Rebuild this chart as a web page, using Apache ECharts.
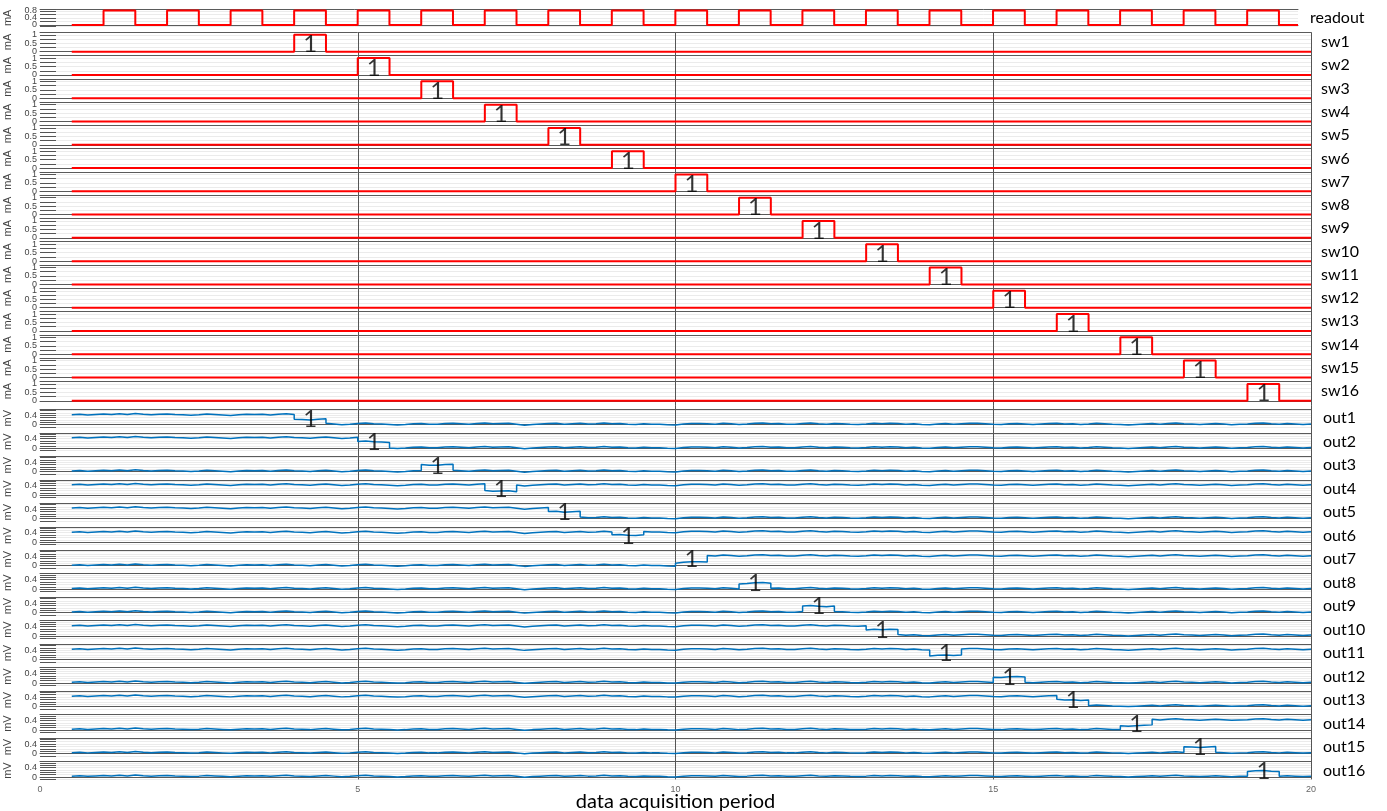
<!DOCTYPE html>
<html><head><meta charset="utf-8">
<script src="https://cdn.jsdelivr.net/npm/echarts@6/dist/echarts.min.js"></script>
<style>html,body{margin:0;padding:0;background:#fff}#c{width:1387px;height:811px}</style>
</head><body><div id="c"></div>
<script>
// ---------------- DATA ----------------
const xTickLabels = [0, 5, 10, 15, 20];
const xAxisTitle = 'data acquisition period';
const dataStart = 0.5;
const readoutEnd = 19.8;
const readoutHigh = 0.82;
const readoutHighStarts = [1,2,3,4,5,6,7,8,9,10,11,12,13,14,15,16,17,18,19];
const readoutHalfPeriod = 0.5;
const readoutTickLabels = [0, 0.4, 0.8];
const swTickLabels = [0, 0.5, 1];
const outTickLabels = [0, 0.4];
const swNames = ['sw1','sw2','sw3','sw4','sw5','sw6','sw7','sw8','sw9','sw10','sw11','sw12','sw13','sw14','sw15','sw16'];
const swPulseStart = [4,5,6,7,8,9,10,11,12,13,14,15,16,17,18,19];
const swPulseWidth = 0.5;
const swHigh = 1;
const outNames = ['out1','out2','out3','out4','out5','out6','out7','out8','out9','out10','out11','out12','out13','out14','out15','out16'];
// level (mV) before / during / after the switch pulse
const outBefore = [0.42,0.44,0.03,0.44,0.45,0.42,0.02,0.03,0.03,0.44,0.44,0.04,0.44,0.04,0.04,0.04];
const outDuring = [0.22,0.26,0.28,0.16,0.28,0.30,0.14,0.24,0.26,0.26,0.18,0.26,0.28,0.20,0.28,0.24];
const outAfter  = [0.03,0.03,0.03,0.44,0.04,0.44,0.42,0.03,0.03,0.05,0.44,0.04,0.04,0.44,0.04,0.04];
// common ripple seen on every out trace (hundredths of mV), every 0.125 from 0.5 to 20
const noiseStep = 0.125;
const noise = [
 0,2,-1,1,3,1,4,1,
 5,2,0,2,3,1,0,-2,
 0,3,1,-1,-3,0,2,1,
 2,-1,2,4,1,0,-2,1,
 3,0,-3,-1,2,4,1,0,
 -2,-4,-2,1,2,-1,-1,2,
 3,1,-1,2,4,1,2,3,
 -1,-5,-2,0,2,3,-1,1,
 3,0,1,4,1,2,-1,-2,
 1,-1,-1,-3,-4,0,2,2,
 1,-1,3,1,-2,0,3,4,
 1,2,-1,-1,2,4,1,-1,
 2,1,-1,-2,0,3,1,3,
 2,-1,1,-2,-3,0,2,-1,
 1,3,3,1,-1,-2,1,2,
 0,-2,0,2,3,0,1,-2,
 0,3,1,-1,-2,-4,-2,0,
 2,-1,2,4,1,0,-2,0,
 2,0,-3,-1,0,3,4,1,
 -1,2,0,-2,0
];

// ---------------- LAYOUT ----------------
const L = { left:40, plotRight:1311, readoutRight:1298, W:1387,
  readoutTop:9, readoutH:17.7, swTop:32.3, swStep:23.27, swH:19.4,
  outTop:409.3, outStep:23.49, outH:17.8 };
const RED = '#ff0000', BLUE = '#0072BD', AX = '#5a5a5a';
const FONT = 'Lato';

const grids=[], xAxes=[], yAxes=[], series=[], graphics=[];

function fmt(labels){ return v => labels.some(l=>Math.abs(l-v)<1e-6) ? String(v) : ''; }

function addPanel(kind, top, h, right, xmax, isLast){
  const gi = grids.length;
  grids.push({left:L.left, width:right-L.left, top:top, height:h, containLabel:false, outerBoundsMode:'none'});
  const bottomAxis = {type:'value', gridIndex:gi, position:'bottom', min:0, max:xmax, interval:5,
    axisLine:{show:true, lineStyle:{color:AX, width:1}}, axisTick:{show:false},
    axisLabel:{show:!!isLast, color:'#666', fontSize:9, margin:6, fontFamily:'Liberation Sans', formatter:fmt(xTickLabels)},
    splitLine:{show:false}};
  if(isLast){ Object.assign(bottomAxis,{name:xAxisTitle, nameLocation:'middle', nameGap:12, nameMoveOverlap:false,
    nameTextStyle:{fontSize:20, fontFamily:FONT, color:'#000'}}); }
  xAxes.push(bottomAxis);
  xAxes.push({type:'value', gridIndex:gi, position:'top', min:0, max:xmax,
    axisLine:{show:true, lineStyle:{color:AX, width:1}}, axisTick:{show:false}, axisLabel:{show:false}, splitLine:{show:false}});
  let y;
  if(kind==='readout') y={min:-0.1,max:0.9,splitNumber:5,labels:readoutTickLabels,name:'mA'};
  else if(kind==='sw') y={min:0,max:1.15,interval:0.25,labels:swTickLabels,name:'mA'};
  else y={min:-0.1,max:0.65,splitNumber:5,labels:outTickLabels,name:'mV'};
  const ya = {type:'value', gridIndex:gi, min:y.min, max:y.max, name:y.name, nameLocation:'middle', nameGap:27, nameMoveOverlap:false,
    nameTextStyle:{fontSize:11, color:'#444', fontFamily:'Liberation Sans'},
    axisLine:{show:false}, axisTick:{show:true, inside:true, length:16, lineStyle:{color:'#555'}},
    axisLabel:{show:true, fontSize:9, color:'#444', margin:3, fontFamily:'Liberation Sans', formatter:fmt(y.labels)},
    splitLine:{show:true, lineStyle:{color:'#ebebeb', width:1}},
    minorSplitLine:{show:false}};
  if(y.interval) ya.interval=y.interval; else ya.splitNumber=y.splitNumber;
  yAxes.push(ya);
  return gi;
}

// readout
{
  const gi = addPanel('readout', L.readoutTop, L.readoutH, L.readoutRight, readoutEnd, false);
  const d=[[dataStart,0]];
  readoutHighStarts.forEach(s=>{ d.push([s,0],[s,readoutHigh],[s+readoutHalfPeriod,readoutHigh],[s+readoutHalfPeriod,0]); });
  d.push([readoutEnd,0]);
  series.push({type:'line', xAxisIndex:gi*2, yAxisIndex:gi, data:d, showSymbol:false, clip:false,
    lineStyle:{color:RED,width:2}, animation:false, silent:true});
  graphics.push({type:'text', x:1310, y:L.readoutTop+L.readoutH/2, style:{text:'readout', fill:'#000', font:'16px '+FONT, verticalAlign:'middle'}});
}
// switches
swNames.forEach((nm,k)=>{
  const top = L.swTop + k*L.swStep;
  const gi = addPanel('sw', top, L.swH, L.plotRight, 20, false);
  const p = swPulseStart[k];
  const d=[[dataStart,0],[p,0],[p,swHigh],[p+swPulseWidth,swHigh],[p+swPulseWidth,0],[20,0]];
  series.push({type:'line', xAxisIndex:gi*2, yAxisIndex:gi, data:d, showSymbol:false, clip:false,
    lineStyle:{color:RED,width:2}, animation:false, silent:true});
  series.push({type:'scatter', xAxisIndex:gi*2, yAxisIndex:gi, data:[[p+swPulseWidth/2,0.42]], symbolSize:0, z:5,
    label:{show:true, position:'inside', formatter:'1', fontSize:24, fontFamily:FONT, color:'#000'}, animation:false, silent:true});
  graphics.push({type:'text', x:1321, y:top+L.swH/2, style:{text:nm, fill:'#000', font:'16px '+FONT, verticalAlign:'middle'}});
});
// outputs
outNames.forEach((nm,k)=>{
  const top = L.outTop + k*L.outStep;
  const gi = addPanel('out', top, L.outH, L.plotRight, 20, k===outNames.length-1);
  const p = swPulseStart[k], q = p + swPulseWidth;
  const lev = x => x < p ? outBefore[k] : (x < q ? outDuring[k] : outAfter[k]);
  const d=[];
  noise.forEach((n,i)=>{
    const x = dataStart + i*noiseStep;
    const v = n/100;
    if(Math.abs(x-p)<1e-9){ d.push([x, outBefore[k]+v]); }
    if(Math.abs(x-q)<1e-9){ d.push([x, outDuring[k]+v]); }
    d.push([x, lev(x)+v]);
  });
  series.push({type:'line', xAxisIndex:gi*2, yAxisIndex:gi, data:d, showSymbol:false,
    lineStyle:{color:BLUE,width:1.5}, animation:false, silent:true});
  series.push({type:'scatter', xAxisIndex:gi*2, yAxisIndex:gi, data:[[p+swPulseWidth/2,0.25]], symbolSize:0, z:5,
    label:{show:true, position:'inside', formatter:'1', fontSize:24, fontFamily:FONT, color:'#000'}, animation:false, silent:true});
  graphics.push({type:'text', x:1323, y:top+L.outH/2, style:{text:nm, fill:'#000', font:'16px '+FONT, verticalAlign:'middle'}});
});
// overlay grid for the vertical grid lines through all sw/out panels
{
  const gi = grids.length;
  const top = L.swTop;
  const bottom = L.outTop + 15*L.outStep + L.outH;
  grids.push({left:L.left, width:L.plotRight-L.left, top:top, height:bottom-top, outerBoundsMode:'none'});
  xAxes.push({type:'value', gridIndex:gi, min:0, max:20, interval:5, axisLine:{show:false}, axisTick:{show:false},
    axisLabel:{show:false}, splitLine:{show:true, showMinLine:false, lineStyle:{color:'#555', width:1}}});
  xAxes.push({type:'value', gridIndex:gi, position:'top', min:0, max:20, show:false});
  yAxes.push({type:'value', gridIndex:gi, min:0, max:1, show:false});
  series.push({type:'line', xAxisIndex:gi*2, yAxisIndex:gi, data:[], silent:true});
}

const chart = echarts.init(document.getElementById('c'), null, {renderer:'canvas'});
chart.setOption({animation:false, backgroundColor:'#fff', grid:grids, xAxis:xAxes, yAxis:yAxes, series:series, graphic:graphics});
</script></body></html>
